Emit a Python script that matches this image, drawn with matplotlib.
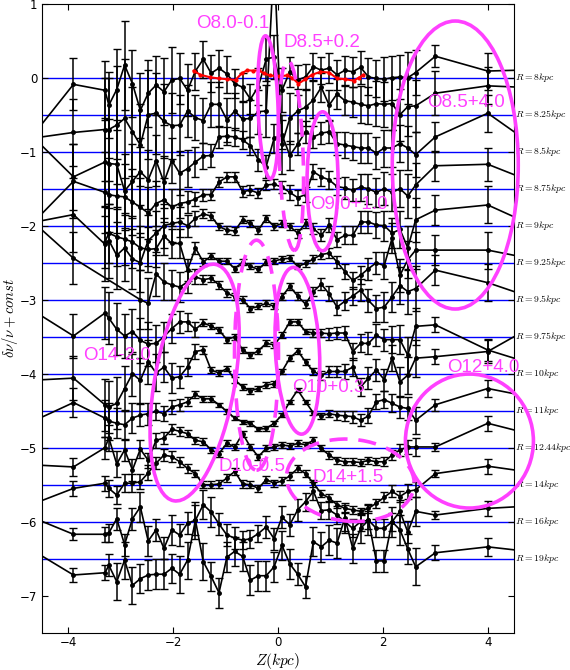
import numpy as np
import matplotlib
matplotlib.use("Agg")
import matplotlib.pyplot as plt
from matplotlib.patches import Ellipse
from matplotlib.transforms import IdentityTransform

plt.rcParams["mathtext.fontset"] = "cm"

nan = np.nan

# vertical-height bins (kpc); outer points lie beyond the plotted range
z = [-5.0, -3.9, -3.3, -3.225, -3.075, -2.925, -2.775, -2.625, -2.475, -2.325,
     -2.175, -2.025, -1.875, -1.725, -1.575, -1.425, -1.275, -1.125, -0.975, -0.825,
     -0.675, -0.525, -0.375, -0.225, -0.075, 0.075, 0.225, 0.375, 0.525, 0.675,
     0.825, 0.975, 1.125, 1.275, 1.425, 1.575, 1.725, 1.875, 2.025, 2.175,
     2.325, 2.475, 2.625, 3.0, 4.0, 5.0]

# relative frequency offsets (already shifted by -0.5 per ring)
r8 = [-1.07, -0.09, -0.17, -0.37, -0.16, 0.17, -0.08, -0.44, -0.21, -0.10,
      -0.19, -0.03, -0.01, -0.17, 0.09, 0.25, 0.06, 0.13, 0.05, -0.08,
      -0.13, -0.29, -0.12, 0.25, 0.28, -0.17, 0.08, -0.03, 0.01, 0.15,
      0.10, 0.13, 0.04, 0.10, 0.08, 0.14, 0.01, -0.01, -0.02, 0.00,
      0.01, 0.00, 0.07, 0.29, 0.09, 0.11]
r8_err = [0.3, 0.35, 0.4, 0.45, 0.55, 0.6, 0.45, 0.5, 0.45, 0.4,
          0.45, 0.45, 0.35, 0.35, 0.25, 0.25, 0.25, 0.25, 0.25, 0.2,
          0.2, 0.2, 0.25, 0.3, 0.3, 0.3, 0.2, 0.2, 0.18, 0.18,
          0.18, 0.2, 0.2, 0.2, 0.2, 0.22, 0.25, 0.25, 0.3, 0.3,
          0.3, 0.35, 0.3, 0.15, 0.25, 0.25]

r825 = [-0.85, -0.74, -0.70, -0.70, -0.64, -0.55, -0.73, -0.91, -0.50, -0.48,
        -0.59, -0.65, -0.64, -0.45, -0.54, -0.58, -0.36, -0.36, -0.57, -0.45,
        -0.56, -0.55, -0.46, -0.45, 1.6, -0.90, -0.55, -0.45, -0.40, -0.30,
        -0.13, -0.37, -0.22, -0.31, -0.33, -0.36, -0.38, -0.35, -0.36, -0.35,
        -0.50, -0.39, -0.38, -0.21, -0.11, -0.14]
r825_err = [0.4, 0.45, 0.7, 0.7, 0.8, 0.8, 0.6, 0.55, 0.6, 0.55,
            0.5, 0.45, 0.4, 0.35, 0.3, 0.3, 0.3, 0.3, 0.3, 0.25,
            0.25, 0.25, 0.3, 0.35, 0.4, 0.4, 0.35, 0.3, 0.25, 0.25,
            0.2, 0.2, 0.2, 0.2, 0.2, 0.25, 0.25, 0.3, 0.3, 0.35,
            0.35, 0.4, 0.35, 0.3, 0.25, 0.25]

r85 = [-0.57, -1.34, -1.14, -1.16, -1.17, -1.53, -1.40, -1.27, -1.38, -1.12,
       -1.41, -1.12, -1.29, -1.23, -1.14, -1.06, -1.05, -0.80, -0.79, -0.80,
       -0.84, -0.92, -1.11, -1.20, -0.82, -0.77, -1.05, -0.90, -0.73, -0.80,
       -0.75, -0.73, -0.89, -0.91, -0.93, -0.95, -0.95, -1.02, -0.95, -0.95,
       -0.89, -0.95, -1.04, -0.80, -0.48, -0.98]
r85_err = [0.4, 0.45, 0.6, 0.6, 0.6, 0.5, 0.5, 0.45, 0.4, 0.35,
           0.35, 0.3, 0.3, 0.25, 0.2, 0.18, 0.15, 0.15, 0.12, 0.12,
           0.12, 0.12, 0.15, 0.15, 0.2, 0.2, 0.2, 0.15, 0.15, 0.15,
           0.15, 0.15, 0.15, 0.18, 0.18, 0.2, 0.2, 0.22, 0.25, 0.25,
           0.25, 0.3, 0.3, 0.2, 0.25, 0.25]

r875 = [-2.2, -1.40, -1.55, -1.58, -1.60, -1.61, -1.68, -1.75, -1.83, -1.70,
        -1.65, -1.75, -1.70, -1.68, -1.64, -1.58, -1.58, -1.41, -1.34, -1.34,
        -1.54, -1.52, -1.56, -1.45, -1.44, -1.48, -1.55, -1.62, -1.58, -1.27,
        -1.34, -1.38, -1.47, -1.49, -1.52, -1.48, -1.50, -1.55, -1.50, -1.55,
        -1.50, -1.60, -1.45, -1.19, -1.17, -1.45]
r875_err = [0.4, 0.5, 0.55, 0.5, 0.5, 0.45, 0.45, 0.4, 0.35, 0.3,
            0.3, 0.25, 0.2, 0.15, 0.1, 0.08, 0.07, 0.07, 0.07, 0.07,
            0.07, 0.07, 0.07, 0.07, 0.07, 0.08, 0.1, 0.1, 0.1, 0.1,
            0.12, 0.12, 0.12, 0.15, 0.15, 0.18, 0.2, 0.2, 0.22, 0.25,
            0.25, 0.3, 0.3, 0.2, 0.22, 0.2]

r9 = [-2.0, -1.85, -2.25, -2.20, -2.40, -2.30, -2.45, -2.50, -2.20, -2.10,
      -2.00, -1.97, -1.95, -2.00, -1.90, -1.84, -1.87, -2.01, -2.06, -2.07,
      -1.92, -1.97, -2.06, -1.90, -2.01, -1.97, -2.01, -2.10, -1.97, -2.04,
      -2.13, -1.99, -2.19, -2.13, -2.13, -1.95, -1.95, -1.99, -2.00, -2.10,
      -2.05, -2.30, -1.92, -1.79, -1.72, -2.04]
r9_err = [0.4, 0.5, 0.5, 0.5, 0.45, 0.45, 0.4, 0.4, 0.35, 0.3,
          0.3, 0.25, 0.2, 0.15, 0.1, 0.06, 0.05, 0.05, 0.05, 0.05,
          0.05, 0.05, 0.05, 0.05, 0.05, 0.05, 0.05, 0.06, 0.06, 0.07,
          0.08, 0.1, 0.1, 0.12, 0.12, 0.15, 0.15, 0.18, 0.2, 0.2,
          0.25, 0.3, 0.3, 0.2, 0.25, 0.25]

r925 = [nan, nan, -2.22, -2.10, -2.15, -2.18, -2.22, -2.30, -2.32, -2.31,
        -2.14, -2.24, -2.24, -2.60, -2.30, -2.49, -2.41, -2.48, -2.48, -2.58,
        -2.49, -2.55, -2.59, -2.49, -2.48, -2.45, -2.44, -2.55, -2.51, -2.45,
        -2.39, -2.37, -2.49, -2.62, -2.74, -2.67, -2.58, -2.50, -2.54, -2.17,
        -2.67, -2.46, -2.33, -2.33, -2.33, -2.47]
r925_err = [0.3, 0.3, 0.35, 0.4, 0.4, 0.35, 0.35, 0.3, 0.3, 0.25,
            0.25, 0.2, 0.2, 0.15, 0.08, 0.05, 0.04, 0.04, 0.04, 0.04,
            0.04, 0.04, 0.04, 0.04, 0.04, 0.04, 0.04, 0.04, 0.05, 0.05,
            0.06, 0.07, 0.08, 0.1, 0.12, 0.12, 0.15, 0.15, 0.18, 0.2,
            0.22, 0.25, 0.25, 0.2, 0.25, 0.25]

r95 = [-1.74, -2.44, nan, nan, nan, nan, nan, -3.00, -3.05, -2.65,
       -2.76, -2.80, -2.83, -2.76, -2.69, -2.73, -2.71, -2.80, -2.91, -2.96,
       -3.00, -3.12, -3.09, -3.05, -3.09, -2.96, -2.82, -2.95, -3.06, -2.89,
       -2.79, -2.92, -3.10, -3.02, -2.95, -2.87, -3.01, -3.12, -3.10, -2.96,
       -2.81, -2.89, -2.85, -2.60, -2.77, -3.01]
r95_err = [0.3, 0.35, 0.3, 0.3, 0.3, 0.3, 0.3, 0.4, 0.35, 0.3,
           0.25, 0.2, 0.2, 0.15, 0.1, 0.06, 0.05, 0.05, 0.05, 0.05,
           0.05, 0.04, 0.04, 0.04, 0.04, 0.05, 0.05, 0.05, 0.05, 0.06,
           0.08, 0.1, 0.1, 0.12, 0.12, 0.15, 0.15, 0.18, 0.2, 0.2,
           0.25, 0.3, 0.3, 0.2, 0.25, 0.25]

r975 = [-3.0, -3.49, -3.18, -3.25, -3.40, -3.49, -3.43, -3.55, -3.60, -3.59,
        -3.50, -3.39, -3.30, -3.30, -3.40, -3.31, -3.36, -3.41, -3.54, -3.50,
        -3.68, -3.75, -3.69, -3.59, -3.61, -3.48, -3.30, -3.30, -3.43, -3.45,
        -3.45, -3.46, -3.45, -3.45, -3.70, -3.59, -3.59, -3.48, -3.54, -3.54,
        -3.54, -3.75, -3.36, -3.34, -3.68, -3.90]
r975_err = [0.3, 0.3, 0.35, 0.35, 0.35, 0.3, 0.3, 0.3, 0.3, 0.25,
            0.2, 0.2, 0.15, 0.12, 0.1, 0.05, 0.04, 0.04, 0.04, 0.04,
            0.04, 0.04, 0.04, 0.04, 0.04, 0.04, 0.04, 0.04, 0.04, 0.05,
            0.06, 0.08, 0.08, 0.1, 0.12, 0.12, 0.15, 0.15, 0.15, 0.18,
            0.2, 0.25, 0.25, 0.1, 0.15, 0.15]

r10 = [-4.1, -4.06, -4.42, -4.45, -4.40, -4.20, -4.00, -4.09, -3.84, -3.99,
       -3.91, -4.06, -4.04, -3.91, -3.70, -3.68, -3.95, -3.99, -3.93, -4.08,
       -4.18, -4.23, -4.20, -4.15, -4.14, -3.97, -3.79, -3.69, -3.84, -3.97,
       -4.02, -3.97, -3.97, -3.97, -3.91, -4.18, -4.06, -3.95, -4.08, -3.79,
       -4.11, -4.02, -3.79, -3.77, -3.70, -3.30]
r10_err = [0.3, 0.3, 0.35, 0.35, 0.35, 0.3, 0.3, 0.3, 0.3, 0.25,
           0.2, 0.2, 0.15, 0.12, 0.1, 0.05, 0.04, 0.04, 0.04, 0.04,
           0.04, 0.04, 0.04, 0.04, 0.04, 0.04, 0.04, 0.04, 0.04, 0.05,
           0.06, 0.08, 0.08, 0.1, 0.12, 0.12, 0.15, 0.15, 0.15, 0.18,
           0.2, 0.25, 0.25, 0.1, 0.15, 0.15]

r11 = [-4.75, -4.39, -4.60, -4.64, -4.67, -4.69, -4.60, -4.56, -4.54, -4.51,
       -4.54, -4.45, -4.42, -4.38, -4.28, -4.34, -4.34, -4.42, -4.51, -4.60,
       -4.65, -4.67, -4.75, -4.74, -4.67, -4.56, -4.38, -4.22, -4.38, -4.53,
       -4.57, -4.54, -4.56, -4.57, -4.58, -4.63, -4.57, -4.38, -4.35, -4.40,
       -4.45, -4.47, -4.63, -4.42, -4.20, -4.34]
r11_err = [0.2, 0.2, 0.25, 0.25, 0.2, 0.2, 0.2, 0.15, 0.15, 0.12,
           0.1, 0.1, 0.08, 0.06, 0.05, 0.04, 0.04, 0.03, 0.03, 0.03,
           0.03, 0.03, 0.03, 0.03, 0.03, 0.03, 0.03, 0.03, 0.03, 0.03,
           0.04, 0.05, 0.06, 0.07, 0.08, 0.08, 0.1, 0.1, 0.12, 0.12,
           0.15, 0.15, 0.18, 0.08, 0.12, 0.12]

r1244 = [-5.22, -5.26, -5.00, -4.87, -5.22, -5.03, -5.30, -5.02, -5.17, -4.90,
         -4.87, -4.75, -4.78, -4.81, -4.90, -4.92, -5.03, -5.08, -4.94, -4.99,
         -4.81, -4.99, -5.12, -5.01, -4.99, -4.96, -4.98, -4.94, -4.96, -4.90,
         -5.01, -5.10, -5.17, -5.19, -5.19, -5.20, -5.17, -5.19, -5.19, -5.10,
         -5.03, -4.99, -4.99, -4.99, -4.67, -4.85]
r1244_err = [0.15, 0.12, 0.15, 0.18, 0.18, 0.15, 0.15, 0.12, 0.1, 0.1,
             0.08, 0.07, 0.06, 0.05, 0.05, 0.05, 0.04, 0.04, 0.04, 0.04,
             0.04, 0.04, 0.04, 0.04, 0.04, 0.04, 0.04, 0.04, 0.04, 0.04,
             0.04, 0.05, 0.05, 0.05, 0.05, 0.05, 0.05, 0.05, 0.06, 0.07,
             0.08, 0.1, 0.12, 0.05, 0.1, 0.1]

r14 = [-5.85, -5.55, -5.48, -5.55, -5.64, -5.48, -5.48, -5.46, -5.34, -5.21,
       -5.10, -5.12, -5.19, -5.28, -5.35, -5.50, -5.50, -5.49, -5.41, -5.32,
       -5.49, -5.50, -5.55, -5.43, -5.48, -5.45, -5.38, -5.28, -5.35, -5.48,
       -5.62, -5.68, -5.77, -5.82, -5.84, -5.86, -5.82, -5.75, -5.67, -5.59,
       -5.66, -5.59, -5.57, -5.35, -5.25, -5.35]
r14_err = [0.1, 0.1, 0.1, 0.12, 0.12, 0.12, 0.12, 0.1, 0.1, 0.08,
           0.08, 0.07, 0.07, 0.06, 0.05, 0.05, 0.05, 0.05, 0.05, 0.05,
           0.05, 0.05, 0.05, 0.05, 0.05, 0.05, 0.05, 0.05, 0.05, 0.05,
           0.05, 0.05, 0.05, 0.05, 0.05, 0.05, 0.06, 0.06, 0.07, 0.08,
           0.08, 0.1, 0.1, 0.05, 0.1, 0.1]

r16 = [-5.85, -6.17, -6.17, -6.15, -5.96, -6.31, -5.96, -5.80, -6.26, -6.11,
       -6.36, -6.11, -6.18, -6.02, -5.98, -5.77, -5.87, -6.03, -6.18, -6.22,
       -6.25, -6.23, -6.16, -6.07, -6.23, -5.94, -6.04, -5.84, -5.73, -5.59,
       -5.85, -5.84, -5.91, -6.00, -6.09, -6.00, -5.98, -6.09, -6.09, -6.00,
       -5.86, -6.14, -5.86, -5.91, -5.82, -5.78]
r16_err = [0.1, 0.08, 0.1, 0.12, 0.15, 0.15, 0.15, 0.2, 0.2, 0.15,
           0.15, 0.2, 0.15, 0.15, 0.2, 0.2, 0.2, 0.15, 0.15, 0.15,
           0.12, 0.12, 0.12, 0.15, 0.15, 0.15, 0.15, 0.15, 0.12, 0.12,
           0.12, 0.12, 0.12, 0.12, 0.12, 0.12, 0.12, 0.12, 0.12, 0.12,
           0.15, 0.15, 0.2, 0.05, 0.1, 0.1]

r19 = [-6.25, -6.72, -6.69, -6.59, -6.81, -6.52, -6.86, -6.77, -6.72, -6.71,
       -6.71, -6.63, -6.71, -6.52, -5.98, -6.54, -6.74, -6.96, -6.48, -6.40,
       -6.47, -6.79, -6.73, -6.73, -6.61, -6.32, -6.57, -6.71, -6.88, -6.27,
       -6.34, -6.25, -6.29, -5.95, -6.36, -6.09, -5.98, -6.53, -6.53, -6.00,
       -6.11, -6.37, -6.61, -6.42, -6.34, -6.42]
r19_err = [0.1, 0.1, 0.1, 0.15, 0.25, 0.25, 0.25, 0.2, 0.2, 0.2,
           0.2, 0.2, 0.25, 0.25, 0.25, 0.25, 0.2, 0.2, 0.2, 0.2,
           0.2, 0.2, 0.2, 0.2, 0.2, 0.2, 0.2, 0.15, 0.15, 0.2,
           0.2, 0.2, 0.2, 0.2, 0.2, 0.2, 0.2, 0.15, 0.15, 0.2,
           0.2, 0.2, 0.25, 0.1, 0.12, 0.12]

# solar-neighbourhood comparison profile
red_z = [-1.61, -1.48, -1.29, -1.13, -0.97, -0.81, -0.69, -0.59, -0.47, -0.37,
         -0.27, -0.15, 0.01, 0.17, 0.27, 0.39, 0.52, 0.65, 0.81, 0.97,
         1.13, 1.28, 1.44, 1.54, 1.63]
red_v = [0.095, 0.04, 0.005, -0.01, -0.02, -0.03, 0.06, 0.10, 0.095, 0.10,
         0.06, 0.03, 0.02, 0.03, 0.0, -0.08, -0.02, 0.04, 0.08, 0.07,
         -0.01, -0.02, -0.04, 0.0, 0.04]

ring_labels = ["8", "8.25", "8.5", "8.75", "9", "9.25", "9.5", "9.75",
               "10", "11", "12.44", "14", "16", "19"]
ring_offsets = [0, -0.5, -1.0, -1.5, -2.0, -2.5, -3.0, -3.5,
                -4.0, -4.5, -5.0, -5.5, -6.0, -6.5]

profiles = [(r8, r8_err), (r825, r825_err), (r85, r85_err), (r875, r875_err),
            (r9, r9_err), (r925, r925_err), (r95, r95_err), (r975, r975_err),
            (r10, r10_err), (r11, r11_err), (r1244, r1244_err), (r14, r14_err),
            (r16, r16_err), (r19, r19_err)]

W, H = 570, 670
fig = plt.figure(figsize=(W / 100, H / 100), dpi=100)
ax = fig.add_axes([42 / W, 37.3 / H, 472 / W, 629 / H])

zz = np.array(z)
for off in ring_offsets:
    ax.axhline(off, color="b", lw=1.0, zorder=1)

for vals, errs in profiles:
    v = np.array(vals, dtype=float)
    e = np.array(errs, dtype=float)
    ok = ~np.isnan(v)
    ax.errorbar(zz[ok], v[ok], yerr=e[ok], color="k", lw=1.2, marker="o",
                ms=2.5, elinewidth=1.1, capsize=3, capthick=1.0, zorder=3)

ax.plot(red_z, red_v, "r.-", lw=1.5, ms=4, zorder=4)

for lab, off in zip(ring_labels, ring_offsets):
    ax.text(4.51, off, rf"$R={lab}kpc$", fontsize=7.0, va="center", ha="left",
            clip_on=False)

ax.set_xlim(-4.5, 4.5)
ax.set_ylim(-7.5, 1)
ax.set_xticks([-4, -2, 0, 2, 4])
ax.set_yticks(range(-7, 2))
ax.tick_params(direction="in", top=True, right=True, length=4, labelsize=8.5)
ax.tick_params(axis="x", pad=2.5)
ax.set_xlabel(r"$Z(kpc)$", fontsize=11)
ax.set_ylabel(r"$\delta\nu/\nu+const$", fontsize=10.5)
ax.xaxis.set_label_coords(0.5, -0.029)
ax.yaxis.set_label_coords(-0.046, 0.5)

# highlighted features: drawn in pixel space so the tilt is not distorted
pink = "#ff40ff"
fig.canvas.draw()


def ring(cx, cy, w, h, angle=0.0, dashed=False):
    px, py = ax.transData.transform((cx, cy))
    e = Ellipse((px, py), w, h, angle=angle, fill=False, ec=pink, lw=2.6,
                ls=(0, (5, 3)) if dashed else "-", transform=IdentityTransform(),
                zorder=10, clip_on=False)
    fig.add_artist(e)


ring(-0.19, -0.40, 20, 143, 2)
ring(0.25, -1.05, 24, 190, 2, dashed=True)
ring(3.38, -1.18, 126, 288, 0)
ring(0.85, -1.40, 31, 139, 0)
ring(-1.59, -4.12, 240, 80, 80)
ring(-0.41, -3.75, 44, 230, 0, dashed=True)
ring(0.37, -3.69, 44, 167, 3)
ring(1.38, -5.44, 128, 82, -5, dashed=True)
ring(3.65, -4.91, 128, 134, 0)

tags = [("O8.0-0.1", -1.56, 0.73), ("D8.5+0.2", 0.10, 0.47),
        ("O8.5+4.0", 2.85, -0.33), ("O9.0+1.0", 0.62, -1.72),
        ("O14-2.0", -3.71, -3.75), ("O12+4.0", 3.23, -3.91),
        ("O10+0.3", 0.27, -4.18), ("D10-0.5", -1.14, -5.26),
        ("D14+1.5", 0.65, -5.40)]
for txt, tx, ty in tags:
    ax.text(tx, ty, txt, color=pink, fontsize=13.5, family="Liberation Sans",
            ha="left", va="center", zorder=11, clip_on=False)

fig.savefig("out.png", dpi=100)
